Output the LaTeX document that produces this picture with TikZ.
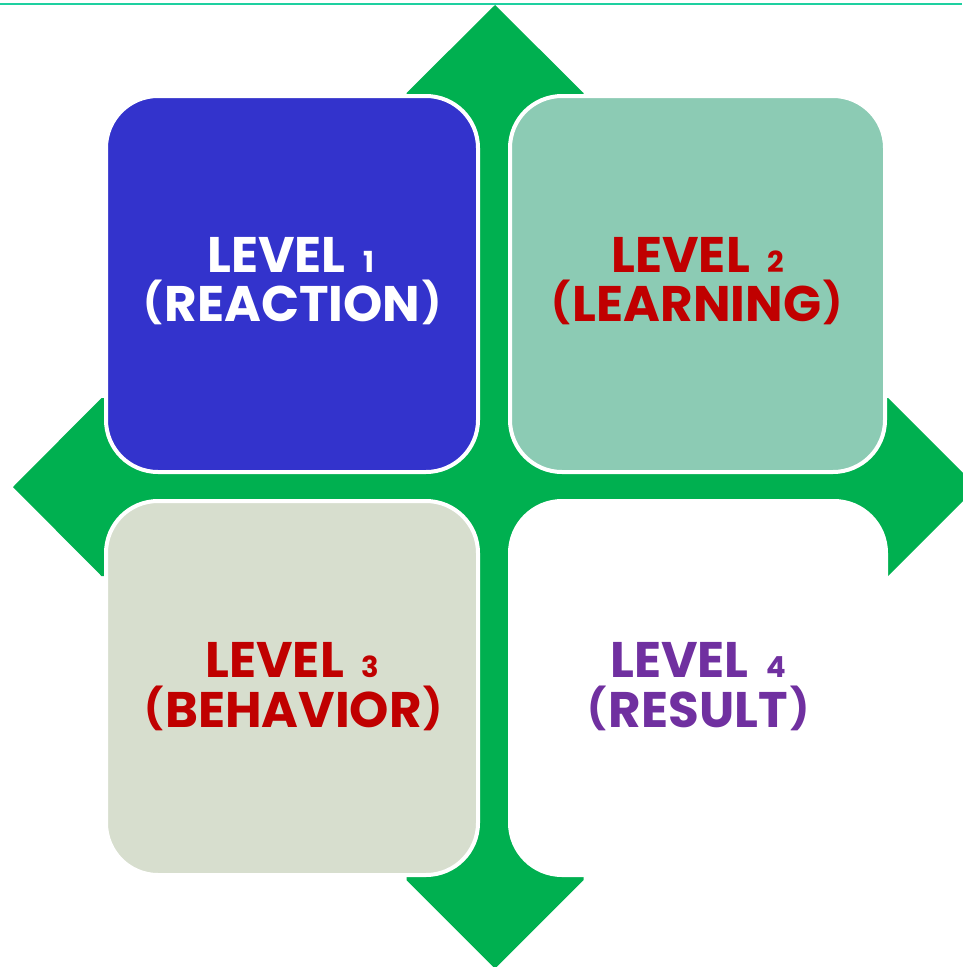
\documentclass[tikz,border=0pt]{standalone}
\usepackage{fontspec}
\setmainfont{Poppins}
\definecolor{boxblue}{RGB}{51,51,204}
\definecolor{boxteal}{RGB}{140,203,180}
\definecolor{boxgrey}{RGB}{215,222,206}
\definecolor{crossgreen}{RGB}{0,176,80}
\definecolor{txtred}{RGB}{192,0,0}
\definecolor{txtpurple}{RGB}{112,48,160}
\definecolor{topline}{RGB}{30,208,160}
\begin{document}
\begin{tikzpicture}[x=1pt,y=-1pt,
  levelbox/.style={draw=white, line width=4pt, rounded corners=52pt},
  lvltxt/.style={anchor=base, inner sep=0pt, font=\fontsize{50}{50}\selectfont\bfseries},
  ]
\useasboundingbox (0,0) rectangle (962,967);
% top rule
\draw[topline, line width=2pt] (0,4) -- (962,4);
% green four-way arrow
\fill[crossgreen] (495,5) -- (583.5,93) -- (583.5,398) -- (888,398) -- (977,487) -- (888,576)
  -- (583.5,576) -- (583.5,880) -- (495,968.5) -- (406.5,880) -- (406.5,576) -- (101.5,576)
  -- (13,487) -- (101.5,398) -- (406.5,398) -- (406.5,93) -- cycle;
% boxes
\path[levelbox, fill=boxblue] (106,96) rectangle (478,472);
\path[levelbox, fill=boxteal] (510,96) rectangle (885,472);
\path[levelbox, fill=boxgrey] (106,501) rectangle (478,875);
\path[levelbox, fill=white] (510,501) rectangle (886,875);
% texts
\newcommand{\dig}[1]{\hspace{0.36em}{\fontsize{29}{29}\selectfont #1}}
\newcommand{\lpar}{\raisebox{5pt}{\fontsize{40}{40}\selectfont(}\hspace{2pt}}
\newcommand{\rpar}{\hspace{2pt}\raisebox{5pt}{\fontsize{40}{40}\selectfont)}}
\node[lvltxt, text=white] (t1a) at (291,272) {LEVEL\dig{1}};
\node[lvltxt, text=white] (t1b) at (292.5,321) {\lpar REACTION\rpar};
\node[lvltxt, text=txtred] (t2a) at (698,272) {LEVEL\dig{2}};
\node[lvltxt, text=txtred] (t2b) at (697,321) {\lpar LEARNING\rpar};
\node[lvltxt, text=txtred] (t3a) at (292.5,677) {LEVEL\dig{3}};
\node[lvltxt, text=txtred] (t3b) at (293.5,727) {\lpar BEHAVIOR\rpar};
\node[lvltxt, text=txtpurple] (t4a) at (698.5,677) {LEVEL\dig{4}};
\node[lvltxt, text=txtpurple] (t4b) at (698.5,727) {\lpar RESULT\rpar};
\end{tikzpicture}
\end{document}
